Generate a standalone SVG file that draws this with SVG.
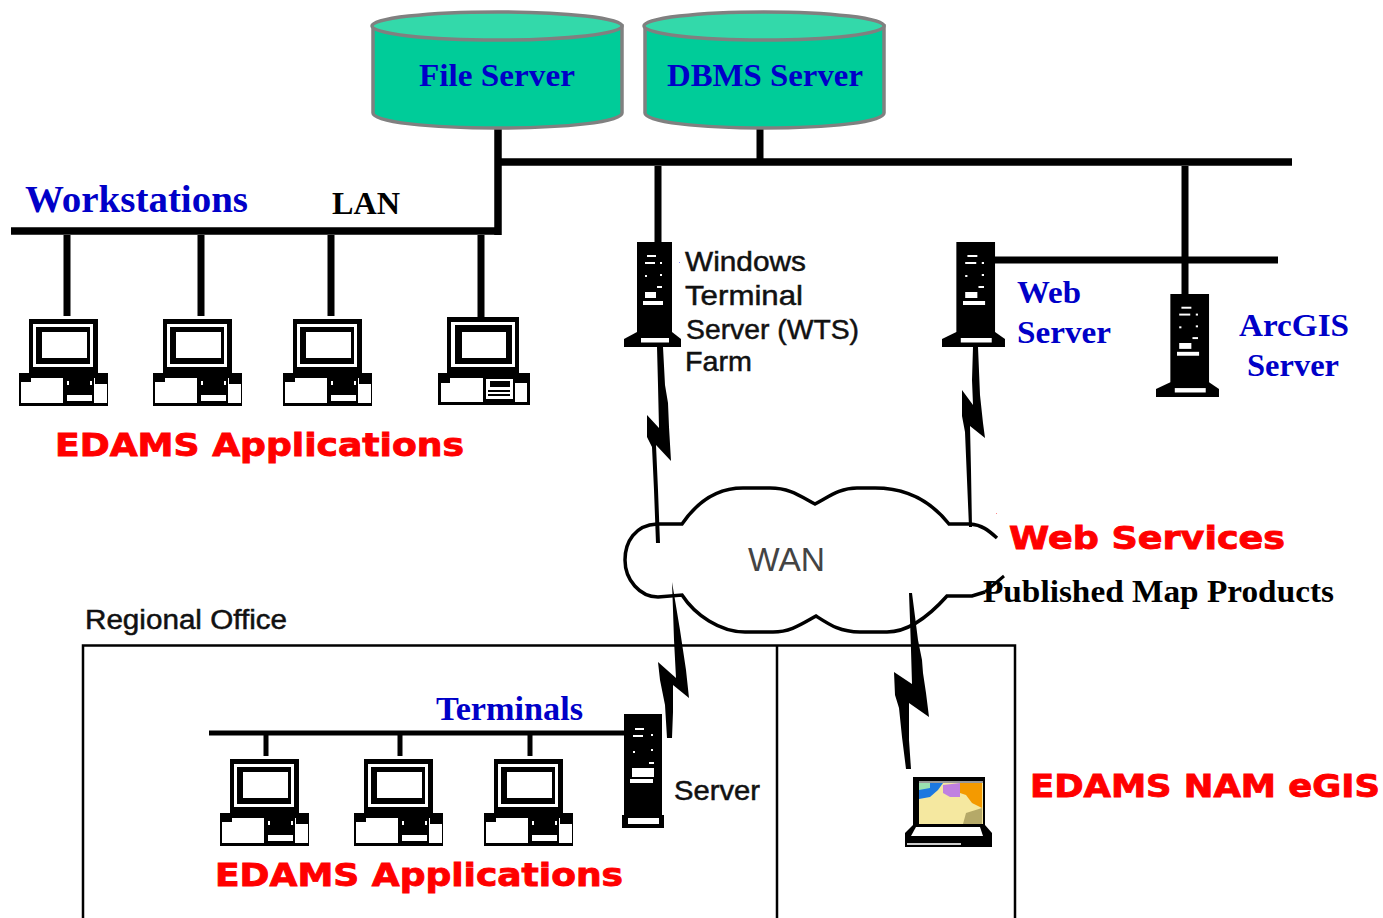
<svg xmlns="http://www.w3.org/2000/svg" xmlns:xlink="http://www.w3.org/1999/xlink" width="1383" height="918" viewBox="0 0 1383 918">
<style>
.b{fill:#0000c8;font-family:"Liberation Serif",serif;font-weight:bold}
.r{fill:#ff0000;stroke:#ff0000;stroke-width:.9;font-family:"DejaVu Sans",sans-serif;font-weight:bold}
.k{fill:#000;font-family:"Liberation Serif",serif;font-weight:bold}
.s{fill:#111;stroke:#111;stroke-width:.5;font-family:"Liberation Sans",sans-serif}
.w{fill:#fff}
.cyl{fill:#00cc99;stroke:#808080;stroke-width:3.500}
.top{fill:#33d9aa;stroke:#808080;stroke-width:3.500}
.ln{stroke:#000;fill:none}
</style>
<defs>
<g id="pc">
<rect x="10" y="0" width="69" height="55" fill="#000"/>
<rect x="14" y="5" width="60" height="43" class="w"/>
<rect x="17" y="8" width="54" height="37" fill="#000"/>
<rect x="23" y="13" width="45" height="26" class="w"/>
<rect x="0" y="54" width="89" height="33" fill="#000"/>
<path class="w" d="M2,63H12V59H44V84H2Z"/>
<rect x="48" y="76" width="25" height="6" class="w"/>
<path class="w" d="M75,59H76V65H88V84H75Z"/>
<rect x="48" y="62" width="2" height="4" class="w"/><rect x="71" y="62" width="2" height="4" class="w"/>
</g>
<g id="tower">
<rect x="13" y="0" width="35" height="92" fill="#000"/>
<path d="M13,90H48L57,97V105H0V97Z" fill="#000"/>
<rect x="17" y="96" width="28" height="4.500" class="w"/>
<rect x="23" y="13" width="9" height="2" class="w"/><rect x="21" y="20" width="10" height="2" class="w"/>
<rect x="36" y="20" width="2" height="2" class="w"/><rect x="21" y="33" width="2" height="2" class="w"/><rect x="36" y="32" width="2" height="2" class="w"/><rect x="33" y="44" width="5" height="2" class="w"/>
<rect x="21" y="50" width="11" height="6" class="w"/><rect x="19" y="59" width="20" height="4" class="w"/>
</g>
</defs>
<g id="connectors">
<g class="ln" stroke-width="7.500">
<path d="M498,128V235M11,231H501M498,162H1292"/>
</g>
<g class="ln" stroke-width="7">
<path d="M67,235V316M201,235V316M331,235V316M481,235V318M658,166V243M760,128V162M1185,166V295M990,260H1278"/>
</g>
<g class="ln" stroke-width="5">
<path d="M209,733H626M266,733V756M400,733V756M530,733V756"/>
</g>
<g fill="#000">
<polygon points="657,347 663,347 665,385 668,403 669,427 671,461 656,445 658,490 660,543 656,543 654,490 652,447 647,437 647,415 659,428 658,385"/>
<polygon points="973,347 978,347 980,395 983,423 985,438 970,426 971,470 972,527 969,527 967,480 965,432 962,416 962,390 973,405 972,380"/>
<polygon points="672,582 675,600 680,630 683,650 686,670 689,698 673,685 673,712 672,738 667,738 665,705 660,680 658,662 676,678 674,640 673,610"/>
<polygon points="909,593 912,593 918,640 922,660 923,673 926,693 929,717 909,703 909,740 911,769 906,769 902,737 899,708 895,695 894,672 912,684 911,650 910,620"/>
</g>
</g>
<g id="file-server">
<path class="cyl" d="M373,26V113C373,122 430,128 497,128C565,128 622,122 622,113V26Z"/>
<ellipse class="top" cx="497" cy="26" rx="125" ry="14"/>
<text class="b" x="419" y="86" font-size="31" textLength="156" lengthAdjust="spacingAndGlyphs">File Server</text>
</g>
<g id="dbms-server">
<path class="cyl" d="M645,26V113C645,122 700,128 764,128C830,128 884,122 884,113V26Z"/>
<ellipse class="top" cx="764" cy="26" rx="120" ry="14"/>
<text class="b" x="667" y="86" font-size="31" textLength="196" lengthAdjust="spacingAndGlyphs">DBMS Server</text>
</g>
<g id="workstations-labels">
<text class="b" x="25" y="212" font-size="37" textLength="223" lengthAdjust="spacingAndGlyphs">Workstations</text>
<text class="k" x="332" y="214" font-size="32" textLength="68" lengthAdjust="spacingAndGlyphs">LAN</text>
<text class="r" x="55" y="456" font-size="32" textLength="409" lengthAdjust="spacingAndGlyphs">EDAMS Applications</text>
</g>
<g id="pc-1"><use xlink:href="#pc" href="#pc" x="19" y="319"/></g>
<g id="pc-2"><use xlink:href="#pc" href="#pc" x="153" y="319"/></g>
<g id="pc-3"><use xlink:href="#pc" href="#pc" x="283" y="319"/></g>
<g id="pc-4">
<rect x="447" y="317" width="72" height="57" fill="#000"/>
<rect x="451" y="322" width="64" height="45" class="w"/>
<rect x="455" y="325" width="57" height="39" fill="#000"/>
<rect x="462" y="332" width="44" height="26" class="w"/>
<rect x="438" y="373" width="92" height="32" fill="#000"/>
<path class="w" d="M441,383H450V378H483V402H441Z"/>
<rect x="486" y="379" width="27" height="20" class="w"/>
<rect x="490" y="381" width="20" height="6" fill="#000"/>
<rect x="488" y="390" width="22" height="2" fill="#000"/><rect x="488" y="394" width="22" height="2" fill="#000"/>
<rect x="515" y="383" width="12" height="19" class="w"/>
</g>
<g id="wts-server">
<use xlink:href="#tower" href="#tower" x="624" y="242"/>
<rect x="679" y="262" width="1" height="1" fill="#8888ff"/>
<g class="s" font-size="28">
<text x="685" y="271" textLength="121" lengthAdjust="spacingAndGlyphs">Windows</text>
<text x="685" y="305" textLength="118" lengthAdjust="spacingAndGlyphs">Terminal</text>
<text x="686" y="339" textLength="173" lengthAdjust="spacingAndGlyphs">Server (WTS)</text>
<text x="685" y="371" textLength="67" lengthAdjust="spacingAndGlyphs">Farm</text>
</g>
</g>
<g id="web-server">
<use xlink:href="#tower" href="#tower" transform="translate(942,242) scale(1.105,1)"/>
<text class="b" x="1017" y="303" font-size="32" textLength="64" lengthAdjust="spacingAndGlyphs">Web</text>
<text class="b" x="1017" y="343" font-size="32" textLength="94" lengthAdjust="spacingAndGlyphs">Server</text>
</g>
<g id="arcgis-server">
<use xlink:href="#tower" href="#tower" transform="translate(1156,294) scale(1.105,0.98)"/>
<text class="b" x="1239" y="336" font-size="32" textLength="110" lengthAdjust="spacingAndGlyphs">ArcGIS</text>
<text class="b" x="1247" y="376" font-size="32" textLength="92" lengthAdjust="spacingAndGlyphs">Server</text>
</g>
<g id="wan">
<path d="M997,538C988,530 982,525 970,524H949C930,500 905,488 875,488H857C840,488 830,496 815,504C800,496 790,488 770,488H743C715,488 695,505 682,524H657C635,525 625,542 625,560C625,580 640,597 658,597L682,595C695,615 720,632 745,632H773C790,632 800,625 816,616C830,625 840,632 860,632H887C910,632 930,615 947,596H972L985,592" fill="none" stroke="#000" stroke-width="3.500"/>
<text x="748" y="571" font-family="'Liberation Sans',sans-serif" font-size="33" fill="#444" textLength="77" lengthAdjust="spacingAndGlyphs">WAN</text>
</g>
<g id="web-services">
<rect x="996" y="513" width="1" height="1" fill="#ff8888"/>
<text class="r" x="1009" y="549" font-size="32" textLength="276" lengthAdjust="spacingAndGlyphs">Web Services</text>
<text class="k" x="983" y="602" font-size="31" textLength="351" lengthAdjust="spacingAndGlyphs">Published Map Products</text>
<path d="M985,592L1004,576" stroke="#000" stroke-width="3"/>
</g>
<g id="regional-office">
<path d="M83,918V645.500H1015V918M777,645V918" fill="none" stroke="#000" stroke-width="2.500"/>
<text class="s" x="85" y="629" font-size="27" textLength="202" lengthAdjust="spacingAndGlyphs">Regional Office</text>
<text class="b" x="436" y="720" font-size="33" textLength="147" lengthAdjust="spacingAndGlyphs">Terminals</text>
<text class="r" x="215" y="886" font-size="32" textLength="408" lengthAdjust="spacingAndGlyphs">EDAMS Applications</text>
</g>
<g id="pc-5"><use xlink:href="#pc" href="#pc" x="220" y="759"/></g>
<g id="pc-6"><use xlink:href="#pc" href="#pc" x="354" y="759"/></g>
<g id="pc-7"><use xlink:href="#pc" href="#pc" x="484" y="759"/></g>
<g id="regional-server">
<rect x="624" y="714" width="38" height="102" fill="#000"/>
<rect x="622" y="815" width="42" height="13" fill="#000"/>
<rect x="628" y="818" width="31" height="6" class="w"/>
<rect x="635" y="728" width="9" height="2" class="w"/><rect x="633" y="735" width="10" height="2" class="w"/>
<rect x="651" y="734" width="2" height="2" class="w"/><rect x="633" y="751" width="2" height="2" class="w"/><rect x="651" y="749" width="2" height="2" class="w"/><rect x="649" y="762" width="5" height="2" class="w"/>
<rect x="632" y="768" width="22" height="9" class="w"/><rect x="630" y="779" width="23" height="4" class="w"/>
<text class="s" x="674" y="800" font-size="27" textLength="86" lengthAdjust="spacingAndGlyphs">Server</text>
</g>
<g id="laptop">
<rect x="913" y="777" width="72" height="50" fill="#000"/>
<rect x="919" y="781" width="64" height="43" fill="#f5e8a0"/>
<rect x="919" y="781" width="64" height="2" fill="#999"/>
<path d="M919,783H943L938,790 930,797 919,799Z" fill="#1c78e0"/>
<path d="M919,783H930V788L919,790Z" fill="#9be0b0"/>
<path d="M943,785L960,783V797L950,797 943,793Z" fill="#c080e0"/>
<path d="M960,783H982V808L972,803 966,795 960,793Z" fill="#f49a00"/>
<path d="M963,824L966,813 982,808V824Z" fill="#b5a968"/>
<path d="M913,825H985L992,833V847H905V833Z" fill="#000"/>
<path d="M916,827H980L983,836H911Z" class="w"/>
<rect x="907" y="843" width="54" height="2" fill="#ccc"/>
<text class="r" x="1030" y="797" font-size="32" textLength="350" lengthAdjust="spacingAndGlyphs">EDAMS NAM eGIS</text>
</g>
</svg>
